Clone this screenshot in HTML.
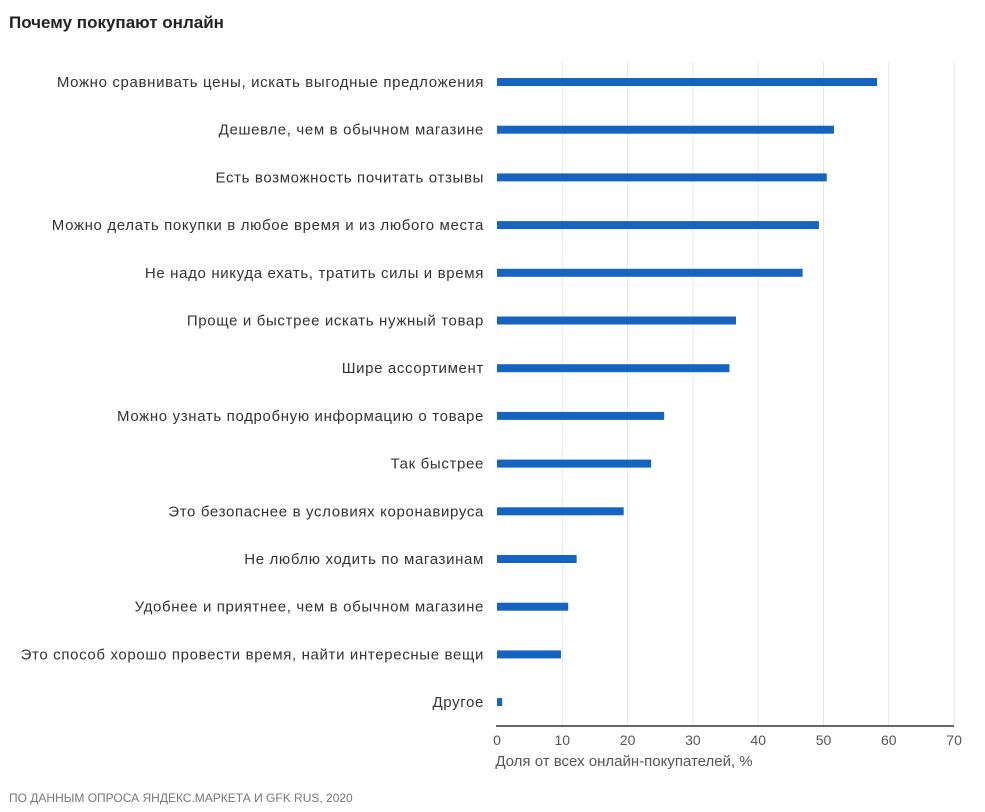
<!DOCTYPE html>
<html><head><meta charset="utf-8"><style>
body{margin:0;background:#fff;width:985px;height:812px;overflow:hidden;font-family:"Liberation Sans","DejaVu Sans",sans-serif}
</style></head><body>
<svg width="985" height="812" id="c" style="position:absolute;left:0;top:0">
<text x="9" y="28" font-size="17" font-weight="bold" fill="#222">Почему покупают онлайн</text>
<text x="9" y="802" font-size="12" fill="#777">ПО ДАННЫМ ОПРОСА ЯНДЕКС.МАРКЕТА И GFK RUS, 2020</text>
<text x="624" y="766" font-size="15" fill="#555" text-anchor="middle">Доля от всех онлайн-покупателей, %</text>
</svg>
<script>
const categories=["Можно сравнивать цены, искать выгодные предложения","Дешевле, чем в обычном магазине","Есть возможность почитать отзывы","Можно делать покупки в любое время и из любого места","Не надо никуда ехать, тратить силы и время","Проще и быстрее искать нужный товар","Шире ассортимент","Можно узнать подробную информацию о товаре","Так быстрее","Это безопаснее в условиях коронавируса","Не люблю ходить по магазинам","Удобнее и приятнее, чем в обычном магазине","Это способ хорошо провести время, найти интересные вещи","Другое"];
const values=[58.2,51.6,50.5,49.3,46.8,36.6,35.6,25.6,23.6,19.4,12.2,10.9,9.8,0.8];
const ticks=[0,10,20,30,40,50,60,70];
const svg=document.getElementById('c');const NS='http://www.w3.org/2000/svg';
const x0=497,pxPer=6.53,yTop=82,step=47.7,axisY=726;
const xs=v=>x0+v*pxPer, ys=i=>yTop+i*step;
function mk(t,a){const e=document.createElementNS(NS,t);for(const k in a)e.setAttribute(k,a[k]);svg.appendChild(e);return e;}
ticks.forEach(t=>{
 if(t>0){const g=mk('line',{x1:xs(t),x2:xs(t),y1:62,y2:axisY,stroke:'#e6e6e6','stroke-width':1});
 
 }
 const l=mk('text',{x:xs(t),y:745,'font-size':14,fill:'#555','text-anchor':'middle'});l.textContent=t;
 
 
});
categories.forEach((c,i)=>{
 const l=mk('text',{x:484,y:ys(i)+5,'font-size':15,'letter-spacing':0.65,fill:'#333','text-anchor':'end'});l.textContent=c;
 
 
 const b=mk('rect',{x:x0,y:ys(i)-4,width:xs(values[i])-x0,height:8,fill:'#1565c0'});
 
 
});
const ax=mk('line',{x1:x0-1,x2:954,y1:axisY,y2:axisY,stroke:'#333','stroke-width':1.5});


</script>
</body></html>
